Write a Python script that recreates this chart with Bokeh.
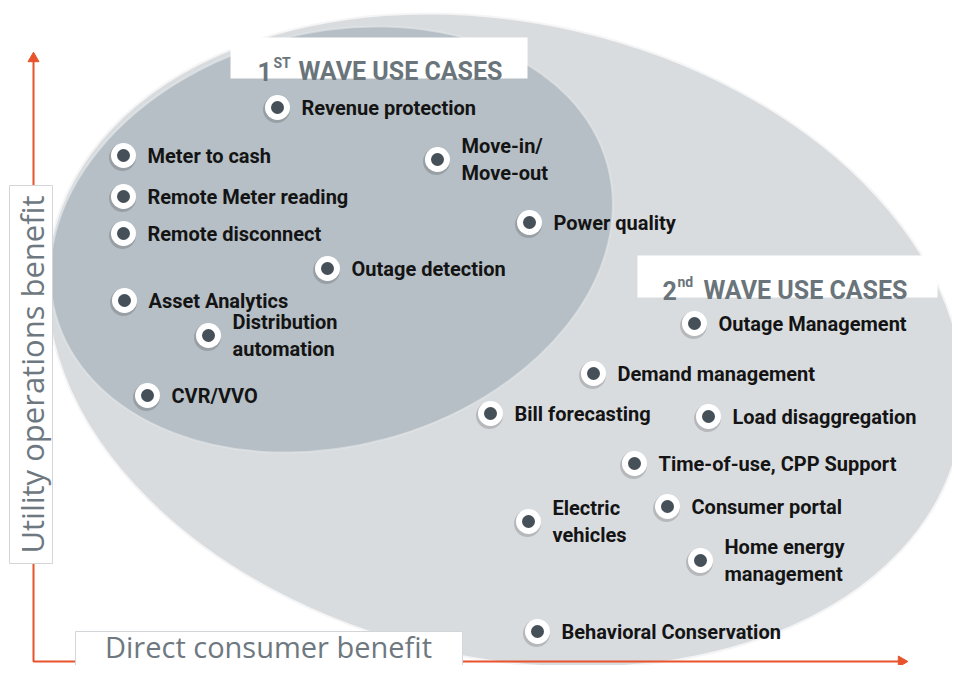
import numpy as np
from bokeh.plotting import figure
from bokeh.models import Range1d, ColumnDataSource
from bokeh.core.properties import value
from bokeh.transform import dodge
from bokeh.embed import file_html
from bokeh.resources import INLINE

# ---------------- data ----------------
labels = ["Revenue protection", "Meter to cash", "Move-in/\nMove-out", "Remote Meter reading",
          "Power quality", "Remote disconnect", "Outage detection", "Asset Analytics",
          "Distribution\nautomation", "CVR/VVO",
          "Outage Management", "Demand management", "Bill forecasting", "Load disaggregation",
          "Time-of-use, CPP Support", "Consumer portal", "Electric\nvehicles",
          "Home energy\nmanagement", "Behavioral Conservation"]
consumer_benefit = [277, 123, 437, 123, 529, 123, 327, 124, 208, 147,
                    694, 593, 490, 708, 634, 667, 528, 700, 537]
utility_benefit = [574, 526, 522, 485, 459, 448, 413, 381, 346, 286,
                   358, 308, 268, 265, 218, 175, 160, 121, 50]
wave = [1] * 10 + [2] * 9

wave_titles = ["1", "2"]
wave_sups = ["ST", "nd"]
wave_rest = ["WAVE USE CASES", "WAVE USE CASES"]

x_axis_label = "Direct consumer benefit"
y_axis_label = "Utility operations benefit"

# ---------------- styles ----------------
ITEM_FONT = "Roboto"
AXIS_FONT = "Open Sans"
ORANGE = "#e8532c"
TITLE_GRAY = "#6a747b"
LABEL_GRAY = "#6e7880"

p = figure(width=952, height=665, x_range=Range1d(0, 952), y_range=Range1d(16, 681),
           output_backend="svg", toolbar_location=None, min_border=0,
           background_fill_color="white", border_fill_color="white")
p.axis.visible = False
p.grid.visible = False
p.outline_line_color = None

# regions
p.ellipse(x=[505], y=[341], width=[930], height=[636], angle=np.radians(-13),
          fill_color="#d9dcdf", line_color="#f5f5f5", line_width=2)
p.ellipse(x=[331], y=[442], width=[572], height=[414], angle=np.radians(15),
          fill_color="#b6bfc5", line_color="#e4e7e9", line_width=2, line_alpha=0.6)

# axes arrows
p.line(x=[33, 33, 900], y=[626, 20, 20], line_color=ORANGE, line_width=2)
p.scatter(x=[33], y=[623], marker="triangle", size=11, fill_color=ORANGE, line_color=ORANGE)
p.scatter(x=[901], y=[20], marker="triangle", size=11, angle=-np.pi / 2,
          fill_color=ORANGE, line_color=ORANGE)

# axis label boxes
p.quad(left=[9], right=[52], bottom=[118], top=[496], fill_color="white",
       line_color="#d3d6d8", line_width=1)
p.quad(left=[75], right=[462], bottom=[0], top=[50], fill_color="white",
       line_color="#d3d6d8", line_width=1)
p.text(x=[31], y=[307], text=[y_axis_label], angle=np.pi / 2, text_align="center",
       text_baseline="middle", text_font=value(AXIS_FONT), text_font_size="31px",
       text_color=LABEL_GRAY)
p.text(x=[268], y=[35], text=[x_axis_label], text_align="center",
       text_baseline="middle", text_font=value(AXIS_FONT), text_font_size="29px",
       text_color=LABEL_GRAY)

# wave title boxes
p.quad(left=[230, 637], right=[527, 937], bottom=[603, 384], top=[644, 426],
       fill_color="white", line_color=None)
p.text(x=[257, 662], y=[610, 391], text=wave_titles, text_align="left",
       text_baseline="alphabetic", text_font=value(ITEM_FONT), text_font_style="bold",
       text_font_size="25px", text_color=TITLE_GRAY)
p.text(x=[273, 677], y=[619, 400], text=wave_sups, text_align="left",
       text_baseline="alphabetic", text_font=value(ITEM_FONT), text_font_style="bold",
       text_font_size="14px", text_color=TITLE_GRAY)
p.text(x=[298, 703], y=[610, 391], text=wave_rest, text_align="left",
       text_baseline="alphabetic", text_font=value(ITEM_FONT), text_font_style="bold",
       text_font_size="25px", text_color=TITLE_GRAY)

# use case markers
src = ColumnDataSource(dict(x=consumer_benefit, y=utility_benefit, label=labels, wave=wave))
p.scatter(x=dodge("x", -1), y=dodge("y", -2), source=src, size=27, marker="circle",
          fill_color="#000000", fill_alpha=0.16, line_color=None)
p.scatter(x="x", y="y", source=src, size=25, marker="circle",
          fill_color="white", line_color=None)
p.scatter(x="x", y="y", source=src, size=13, marker="circle",
          fill_color="#465058", line_color=None)
p.text(x="x", y="y", text="label", source=src, x_offset=24, text_align="left",
       text_baseline="middle", text_font=value(ITEM_FONT), text_font_style="bold",
       text_font_size="20px", text_color="#141414", text_line_height=1.1)

open("out.html", "w").write(file_html(p, INLINE))
